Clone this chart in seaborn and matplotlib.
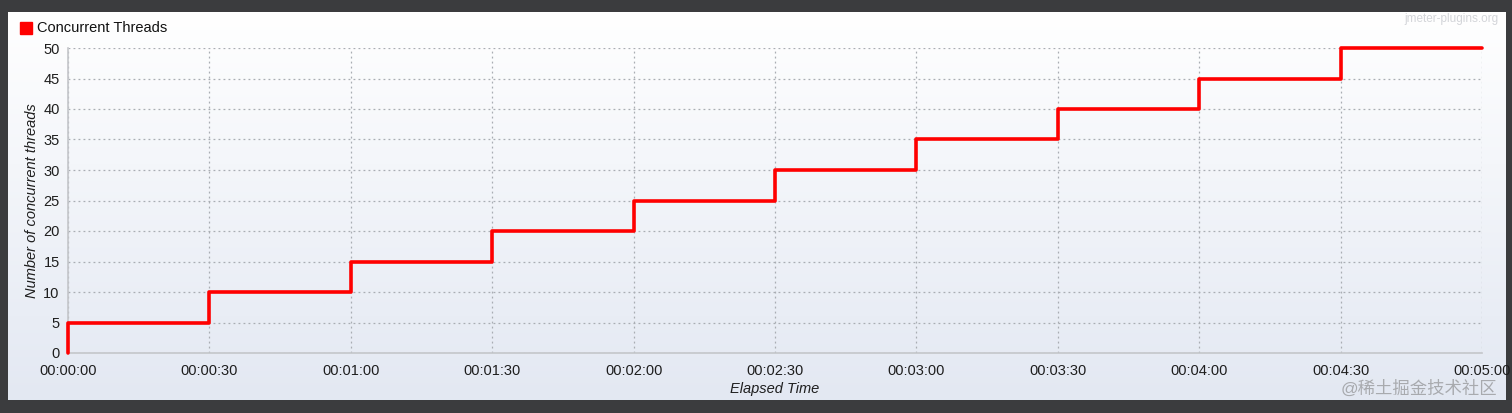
import numpy as np
import pandas as pd
import matplotlib.pyplot as plt
import seaborn as sns

# elapsed seconds / active threads (step data, one ramp-up every 30 s)
elapsed_s = [0, 0, 30, 60, 90, 120, 150, 180, 210, 240, 270, 300]
threads = [0, 5, 10, 15, 20, 25, 30, 35, 40, 45, 50, 50]
x_ticks = [0, 30, 60, 90, 120, 150, 180, 210, 240, 270, 300]
x_labels = ["00:00:00", "00:00:30", "00:01:00", "00:01:30", "00:02:00",
            "00:02:30", "00:03:00", "00:03:30", "00:04:00", "00:04:30", "00:05:00"]
y_ticks = [0, 5, 10, 15, 20, 25, 30, 35, 40, 45, 50]

df = pd.DataFrame({"elapsed": elapsed_s, "threads": threads})

sns.set_style("white")
plt.rcParams["font.family"] = ["Liberation Sans", "Noto Sans CJK SC"]

W, H = 1512, 413
fig = plt.figure(figsize=(W / 100, H / 100), dpi=100, facecolor="#3b3c3e")

# panel with soft vertical gradient
px0, py0, px1, py1 = 8, 12, 1505, 400
bg = fig.add_axes([px0 / W, 1 - py1 / H, (px1 - px0) / W, (py1 - py0) / H], zorder=0)
grad = np.linspace(0, 1, 256).reshape(-1, 1)
top = np.array([1.0, 1.0, 1.0])
bot = np.array([0.89, 0.91, 0.95])
img = top + (bot - top) * grad[:, :, None]
bg.imshow(img, aspect="auto", extent=[0, 1, 0, 1])
bg.set_axis_off()

ax = fig.add_axes([68 / W, 1 - 353 / H, (1482 - 68) / W, (353 - 48) / H], zorder=1)
ax.patch.set_alpha(0)

sns.lineplot(data=df, x="elapsed", y="threads", ax=ax, estimator=None, sort=False,
             drawstyle="steps-post", color="#ff0000", linewidth=2.6, clip_on=False, zorder=3)

ax.set_xlim(0, 300)
ax.set_ylim(0, 50)
ax.set_xticks(x_ticks)
ax.set_xticklabels(x_labels)
ax.set_yticks(y_ticks)
ax.tick_params(axis="both", labelsize=10.5, colors="#c4c6ca", labelcolor="#1e1e1e",
               length=3, width=1, pad=3)
ax.tick_params(axis="x", pad=5)
ax.grid(True, linestyle=(0, (1.5, 2.5)), color="#a9adb3", linewidth=0.9)
for s in ["top", "right"]:
    ax.spines[s].set_visible(False)
for s in ["left", "bottom"]:
    ax.spines[s].set_color("#c4c6ca")
    ax.spines[s].set_linewidth(1.2)

ax.set_xlabel("Elapsed Time", fontsize=10.5, style="italic", labelpad=3, color="#1e1e1e")
ax.set_ylabel("Number of concurrent threads", fontsize=10.5, style="italic", labelpad=3,
              color="#1e1e1e")

# legend box like the original
fig.patches.append(plt.Rectangle((20 / W, 1 - 34 / H), 12 / W, 12 / H,
                                 transform=fig.transFigure, color="#ff0000", zorder=5))
fig.text(37 / W, 1 - 28 / H, "Concurrent Threads", fontsize=10.5, va="center",
         color="#111111", zorder=5)

fig.text(1498 / W, 1 - 19 / H, "jmeter-plugins.org", fontsize=8.5, ha="right",
         va="center", color="#d3d5d9", zorder=5)
fig.text(1497 / W, 1 - 388 / H, "@稀土掘金技术社区", fontsize=12.5, ha="right",
         va="center", color="#a8aaae", zorder=5)

fig.savefig("out.png", dpi=100, facecolor=fig.get_facecolor())
